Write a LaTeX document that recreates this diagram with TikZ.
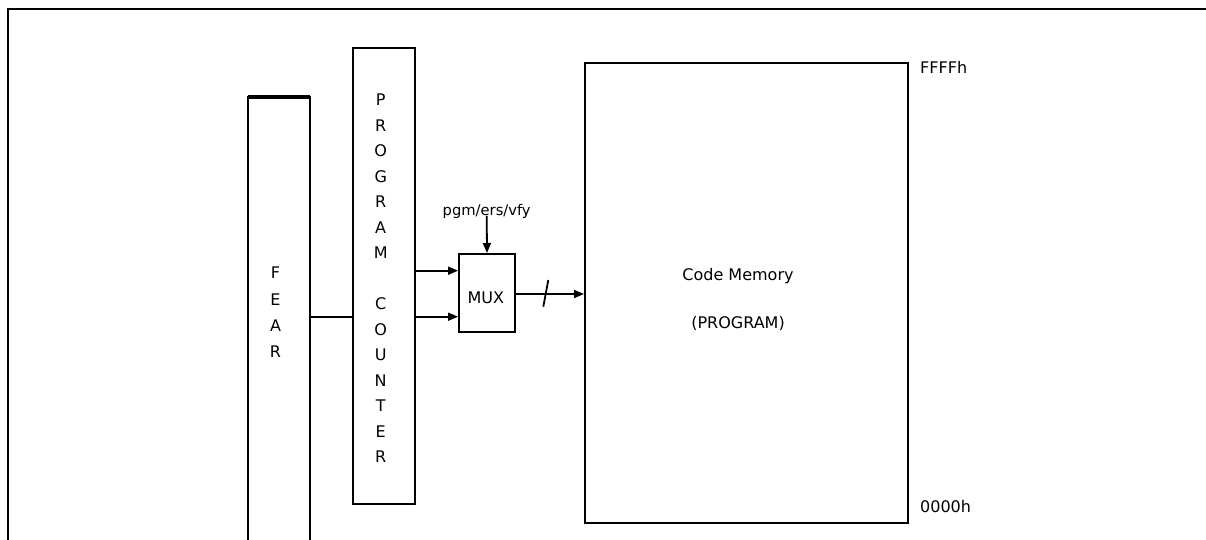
\documentclass[tikz,border=0pt]{standalone}
\usepackage{fontspec}
\setmainfont{DejaVu Sans}
\usetikzlibrary{arrows.meta}
\begin{document}
\begin{tikzpicture}[x=1pt,y=-1pt,
  box/.style={draw,line width=2pt,inner sep=0pt},
  conn/.style={line width=1.8pt},
  arr/.style={line width=1.8pt,-{Triangle[length=10pt,width=8pt]}},
  lbl/.style={inner sep=0pt,font=\fontsize{16}{19}\selectfont},
  lbls/.style={inner sep=0pt,font=\fontsize{14.7}{17}\selectfont}]
\useasboundingbox (0,0) rectangle (1206,540);
% outer frame (only top and left visible)
\draw[line width=2.8pt] (1210,9) -- (8,9) -- (8,545);
% FEAR register (open at the bottom)
\node[inner sep=0pt,minimum width=62pt,minimum height=443pt,anchor=north west] (fear) at (248,97) {};
\draw[line width=2pt] (fear.south west) -- (fear.north west) -- (fear.north east) -- (fear.south east);
\draw[line width=3.8pt] (fear.north west) -- (fear.north east);
\foreach \t [count=\i from 0] in {F,E,A,R}
  \node[lbl,anchor=base] (fear\i) at (275.5,278.9+26.2*\i) {\t};
% program counter
\node[box,minimum width=62pt,minimum height=456pt,anchor=north west] (pc) at (352,47) {};
\foreach \t [count=\i from 0] in {P,R,O,G,R,A,M,{},C,O,U,N,T,E,R}
  \node[lbl,anchor=base] (pcl\i) at (380.7,105.8+25.5*\i) {\t};
% MUX
\node[box,minimum width=56pt,minimum height=78pt,anchor=north west] (mux) at (458,253) {};
\node[lbl,anchor=base] (muxt) at (485.8,303.3) {MUX};
\node[lbls,anchor=base] (pgm) at (486.7,215.5) {pgm/ers/vfy};
% code memory
\node[box,minimum width=323pt,minimum height=460pt,anchor=north west] (cm) at (584,62) {};
\node[lbl,anchor=base] (cmt1) at (738,280) {Code Memory};
\node[lbl,anchor=base] (cmt2) at (738,328) {(PROGRAM)};
\node[lbl,anchor=base west] (hi) at (920,73.3) {FFFFh};
\node[lbl,anchor=base west] (lo) at (920,512) {0000h};
% connectors
\coordinate (yfp) at (0,317.3);
\coordinate (yin1) at (0,270.7);
\coordinate (yin2) at (0,316.7);
\coordinate (yout) at (0,294);
\draw[conn] (fear.east |- yfp) -- (pc.west |- yfp);
\draw[arr] (pc.east |- yin1) -- (mux.west |- yin1);
\draw[arr] (pc.east |- yin2) -- (mux.west |- yin2);
\draw[arr] ([yshift=3pt]pgm.south) -- (mux.north);
\draw[arr] (mux.east |- yout) -- (cm.west |- yout);
\coordinate (sl) at (546,294);
\draw[conn] ([shift={(-2.7,12.7)}]sl) -- ([shift={(2.3,-14)}]sl);
\end{tikzpicture}
\end{document}
